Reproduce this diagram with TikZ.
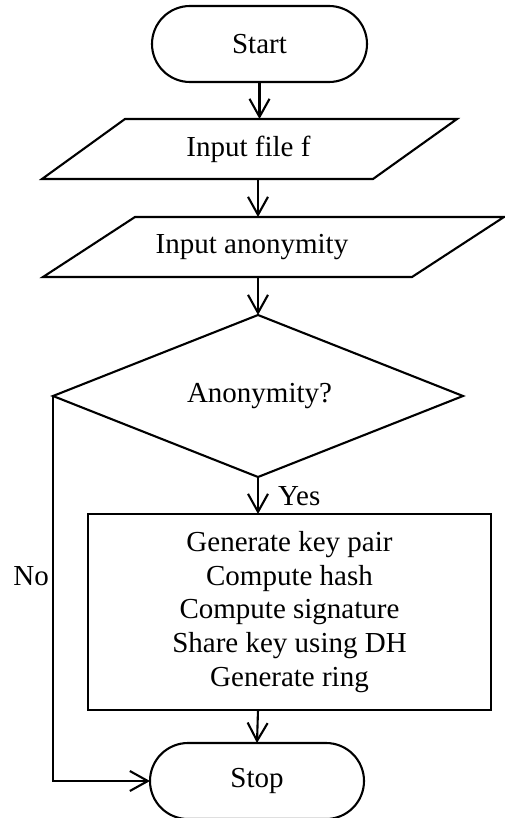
\documentclass[tikz,border=0pt]{standalone}
\usepackage{fontspec}
\setmainfont{Liberation Serif}
\usetikzlibrary{shapes.geometric,shapes.misc,arrows.meta}

\tikzset{
  base/.style={draw=black, line width=2.1pt, inner sep=0pt, outer sep=0pt,
               font=\fontsize{29}{33.6}\selectfont},
  term/.style={base, rounded rectangle, minimum width=215pt, minimum height=76pt},
  iotext/.style={inner sep=0pt, outer sep=0pt, minimum height=60pt,
                 font=\fontsize{29}{33.6}\selectfont},
  ioline/.style={draw=black, line width=2.1pt, line join=miter},
  decision/.style={base, diamond, minimum width=410pt, minimum height=162pt},
  process/.style={base, rectangle, align=center, minimum width=403pt,
                  minimum height=196pt},
  lbl/.style={inner sep=0pt, font=\fontsize{29}{33.6}\selectfont},
  arr/.style={line width=2.1pt,
              -{Straight Barb[length=18pt,width=20pt,line width=2.1pt]}}
}

\begin{document}
\begin{tikzpicture}[x=1pt, y=-1pt]
  \useasboundingbox (0,0) rectangle (505,818);

  % main column of the flow
  \coordinate (col) at (258,0);

  \node[term] (start) at (259.5,44) {Start};

  % input parallelograms: outline paths with their texts as nodes
  \draw[ioline] (42,179) -- (125,119) -- (457,119) -- (373,179) -- cycle;
  \node[iotext] (in1) at (248.5,149) {Input file f};

  \draw[ioline] (43,277) -- (135,217) -- (504,217) -- (412,277) -- cycle;
  \node[iotext] (in2) at (252,247) {Input anonymity};

  \node[decision] (dec) at (258,396) {};
  \node[lbl] (dectxt) at (259.5,396) {Anonymity?};

  \node[process] (proc) at (289.5,612)
    {Generate key pair\\Compute hash\\Compute signature\\Share key using DH\\Generate ring};

  \node[term, minimum width=214pt] (stop) at (257,781) {Stop};

  % connectors
  \draw[arr] (start.south) -- (start.south |- in1.north);
  \draw[arr] (col |- in1.south) -- (col |- in2.north);
  \draw[arr] (col |- in2.south) -- (dec.north);
  \draw[arr] (dec.south) -- (dec.south |- proc.north);
  \draw[arr] (col |- proc.south) -- (stop.north);
  \draw[arr] (dec.west) -- (dec.west |- stop.west) -- (stop.west);

  % branch labels
  \node[lbl, anchor=base west] (yes) at (278,505) {Yes};
  \node[lbl, anchor=base east] (no) at (49,585) {No};
\end{tikzpicture}
\end{document}
